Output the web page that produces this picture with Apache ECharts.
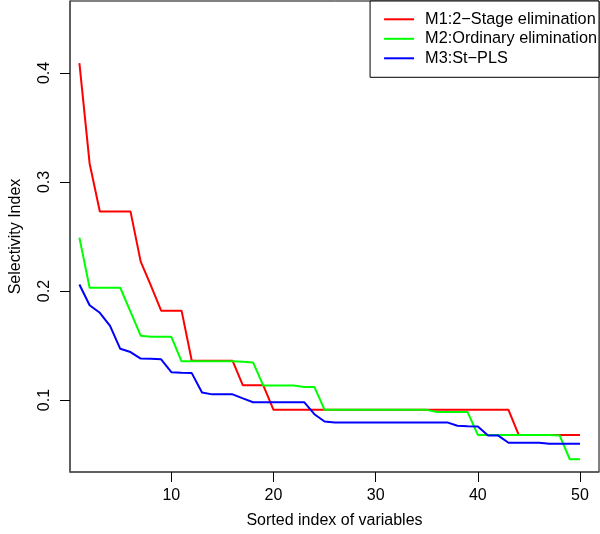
<!DOCTYPE html>
<html>
<head>
<meta charset="utf-8">
<script src="https://cdn.jsdelivr.net/npm/echarts@6/dist/echarts.min.js"></script>
<style>
html,body{margin:0;padding:0;background:#fff;}
#chart{width:600px;height:534px;}
</style>
</head>
<body>
<div id="chart"></div>
<script>
// Sorted variable index (x)
const xIndex = [1,2,3,4,5,6,7,8,9,10,11,12,13,14,15,16,17,18,19,20,21,22,23,24,25,26,27,28,29,30,31,32,33,34,35,36,37,38,39,40,41,42,43,44,45,46,47,48,49,50];
// M1: 2-Stage elimination
const m1 = [0.409,0.317,0.273,0.273,0.273,0.273,0.227,0.205,0.182,0.182,
            0.182,0.136,0.136,0.136,0.136,0.136,0.1135,0.1135,0.1135,0.091,
            0.091,0.091,0.091,0.091,0.091,0.091,0.091,0.091,0.091,0.091,
            0.091,0.091,0.091,0.091,0.091,0.091,0.091,0.091,0.091,0.091,
            0.091,0.091,0.091,0.068,0.068,0.068,0.068,0.068,0.068,0.068];
// M2: Ordinary elimination
const m2 = [0.249,0.203,0.203,0.203,0.203,0.181,0.159,0.158,0.158,0.158,
            0.1355,0.1355,0.1355,0.1355,0.1355,0.1355,0.1352,0.1345,0.1133,0.1133,
            0.1133,0.1133,0.112,0.112,0.091,0.091,0.091,0.091,0.091,0.091,
            0.091,0.091,0.091,0.091,0.091,0.089,0.089,0.089,0.089,0.068,
            0.068,0.068,0.068,0.068,0.068,0.068,0.068,0.0675,0.0457,0.0457];
// M3: St-PLS
const m3 = [0.206,0.187,0.180,0.168,0.147,0.144,0.138,0.1378,0.1374,0.1256,
            0.125,0.1247,0.107,0.1052,0.1052,0.1052,0.1015,0.098,0.098,0.098,
            0.098,0.098,0.098,0.087,0.0803,0.0795,0.0795,0.0795,0.0795,0.0795,
            0.0795,0.0795,0.0795,0.0795,0.0795,0.0795,0.0795,0.0764,0.076,0.0758,
            0.0674,0.0674,0.0608,0.0608,0.0608,0.0608,0.060,0.060,0.060,0.060];
const xTicks = [10,20,30,40,50];
const yTicks = [0.1,0.2,0.3,0.4];
const seriesNames = ['M1:2\u2212Stage elimination','M2:Ordinary elimination','M3:St\u2212PLS'];
const seriesColors = ['#FF0000','#00FF00','#0000FF'];

const FONT = 'Liberation Sans, Arial, Helvetica, sans-serif';
const chart = echarts.init(document.getElementById('chart'), null, {renderer:'canvas'});
const allData = [m1, m2, m3];
const option = {
  animation: false,
  backgroundColor: '#ffffff',
  grid: {left: 64, right: 1, top: 1, bottom: 57, show: true, borderColor: '#000', borderWidth: 1, backgroundColor: 'transparent'},
  legend: {
    right: 1, top: 1,
    orient: 'vertical',
    icon: 'rect', itemWidth: 30, itemHeight: 2, itemGap: 3.5,
    padding: [10.3, 2, 11, 14],
    borderColor: '#000', borderWidth: 1,
    backgroundColor: '#fff',
    textStyle: {fontFamily: FONT, fontSize: 16.3, color: '#000', lineHeight: 16, padding: [0,0,0,6]},
    data: seriesNames
  },
  xAxis: {
    type: 'value', min: 0.08, max: 51.86,
    axisLine: {show: true, onZero: false, lineStyle: {color: '#555', width: 1.5}},
    splitLine: {show: false},
    axisTick: {show: true, customValues: xTicks, length: 10, lineStyle: {color: '#000', width: 1}},
    axisLabel: {customValues: xTicks, margin: 16, fontFamily: FONT, fontSize: 16, color: '#000'},
    name: 'Sorted index of variables', nameLocation: 'middle', nameGap: 41,
    nameTextStyle: {fontFamily: FONT, fontSize: 16, color: '#000'}
  },
  yAxis: {
    type: 'value', min: 0.034, max: 0.466,
    axisLine: {show: true, onZero: false, lineStyle: {color: '#555', width: 1.5}},
    splitLine: {show: false},
    axisTick: {show: true, customValues: yTicks, length: 10, lineStyle: {color: '#000', width: 1}},
    axisLabel: {customValues: yTicks, rotate: 90, margin: 17, fontFamily: FONT, fontSize: 16, color: '#000'},
    name: 'Selectivity Index', nameLocation: 'middle', nameGap: 46, nameRotate: 90,
    nameTextStyle: {fontFamily: FONT, fontSize: 16, color: '#000'}
  },
  series: allData.map((vals, k) => ({
    name: seriesNames[k],
    type: 'line',
    data: xIndex.map((x, i) => [x, vals[i]]),
    showSymbol: false, symbol: 'none',
    lineStyle: {color: seriesColors[k], width: 2},
    itemStyle: {color: seriesColors[k]},
    z: 2 + k
  }))
};
chart.setOption(option);
</script>
</body>
</html>
